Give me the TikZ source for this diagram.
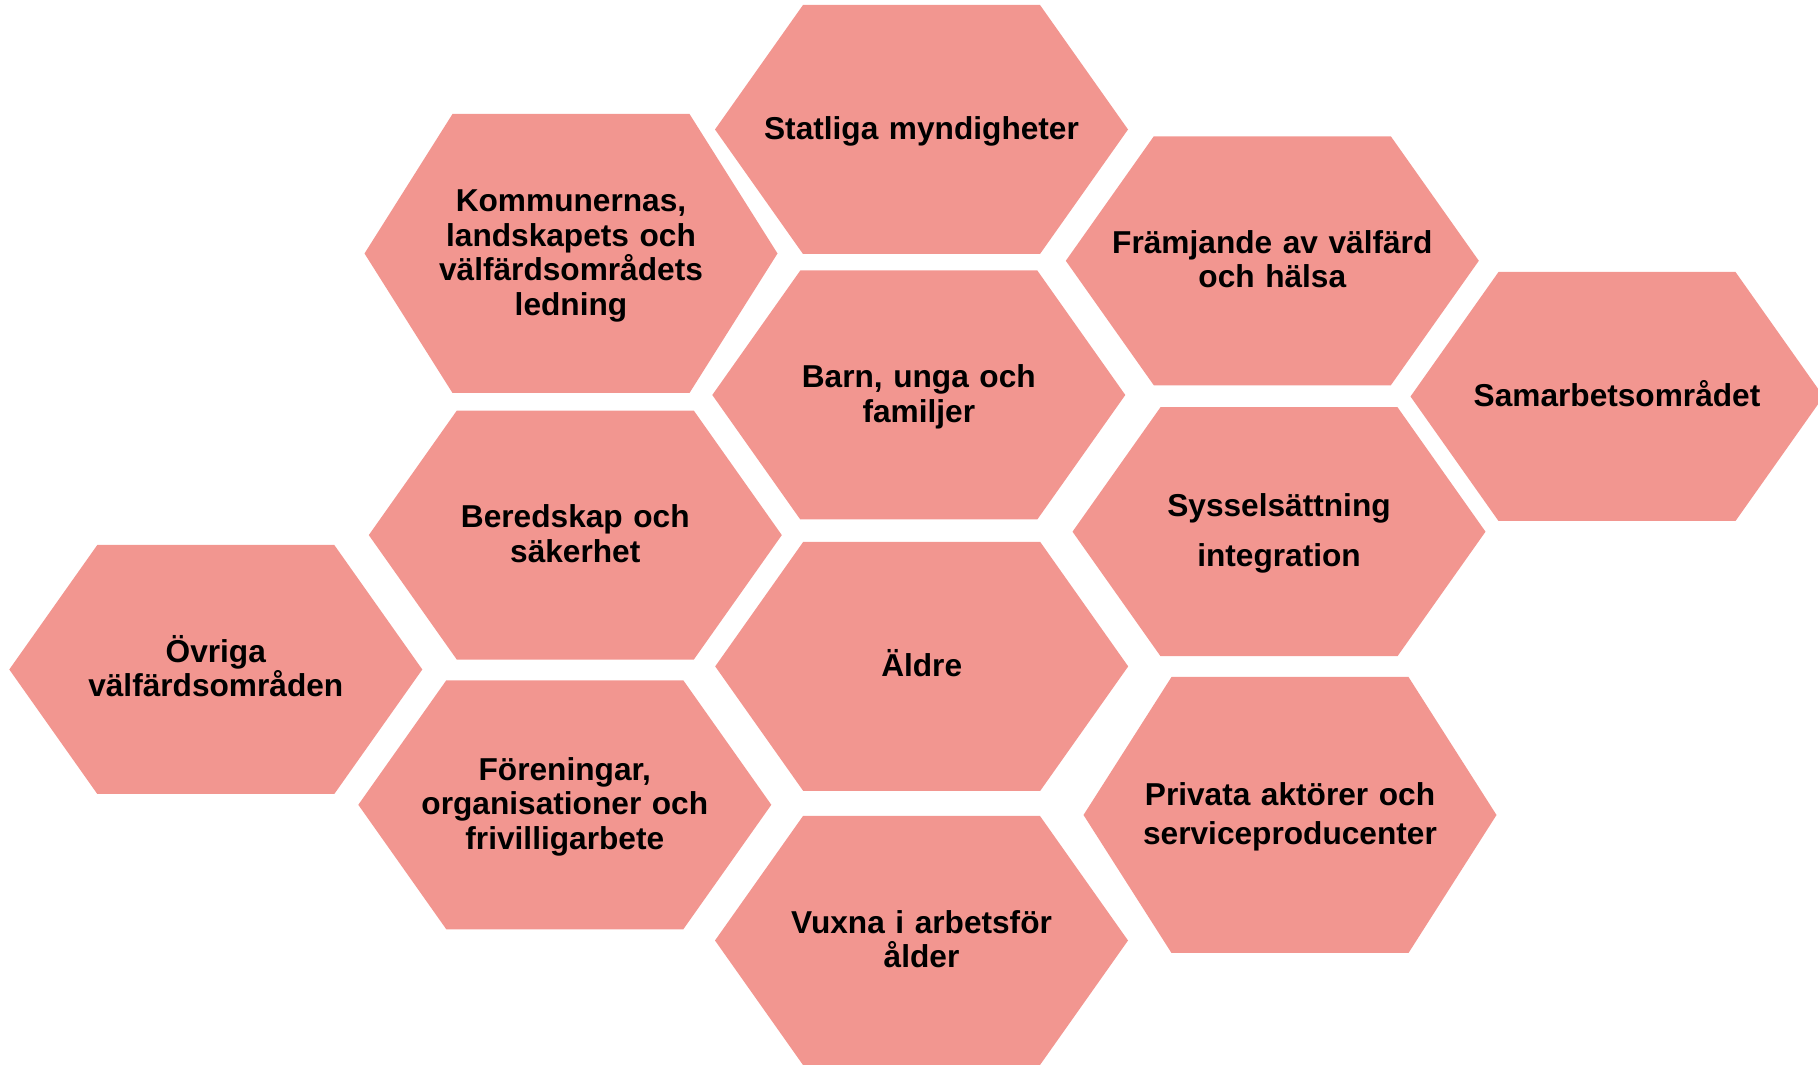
\documentclass[tikz,border=0pt]{standalone}
\usepackage{fontspec}
\setmainfont{Liberation Sans}
\usetikzlibrary{positioning}
\definecolor{hexpink}{RGB}{242,150,144}

% struts for the first and the last line of a label
\newcommand{\hextop}{\rule{0pt}{9.2pt}}
\newcommand{\hexbot}{\rule[-2.8pt]{0pt}{2.8pt}}
% one hexagon cell: name, x, y, half height, text
\newcommand{\hexcell}[5]{%
  \fill[hexpink] (#2-206.5,#3) -- (#2-118.5,#3-#4) -- (#2+118.5,#3-#4)
        -- (#2+206.5,#3) -- (#2+118.5,#3+#4) -- (#2-118.5,#3+#4) -- cycle;
  \node[hexlabel] (#1) at (#2,#3) {#5};}

\begin{document}
\begin{tikzpicture}[x=0.01cm,y=-0.01cm,font=\fontsize{9pt}{9.8pt}\selectfont\bfseries]
	  \tikzstyle{hexlabel}=[inner sep=0pt,text width=4cm,align=center,text=black,yshift=0.4pt,
	                        execute at begin node=\hextop,execute at end node=\hexbot]

	  \useasboundingbox (0,0) rectangle (1818,1065);

	  \hexcell{statliga}{921.5}{129.5}{124.5}{Statliga myndigheter}
	  \hexcell{kommun}{571}{253.5}{139.5}{Kommunernas,\\ landskapets och\\ välfärdsområdets\\ ledning}
	  \hexcell{barn}{918.8}{395}{124.5}{Barn, unga och\\ familjer}
	  \hexcell{framjande}{1272.3}{260.8}{124.5}{Främjande av välfärd\\ och hälsa}
	  \hexcell{samarbete}{1617}{396.5}{124.5}{Samarbetsområdet}
	  \hexcell{syssel}{1279}{531.7}{124.5}{Sysselsättning\\[4.4pt] integration}
	  \hexcell{beredskap}{575.3}{535.1}{124.5}{Beredskap och\\ säkerhet}
	  \hexcell{aldre}{921.7}{666.4}{124.5}{Äldre}
	  \hexcell{ovriga}{215.8}{669.5}{124.5}{Övriga\\ välfärdsområden}
	  \hexcell{foreningar}{564.8}{804.8}{124.5}{Föreningar,\\ organisationer och\\ frivilligarbete}
	  \hexcell{privata}{1290}{815}{138}{Privata aktörer och\\[1.1pt] serviceproducenter}
	  \hexcell{vuxna}{921.5}{940.5}{124.5}{Vuxna i arbetsför\\ ålder}
\end{tikzpicture}
\end{document}
